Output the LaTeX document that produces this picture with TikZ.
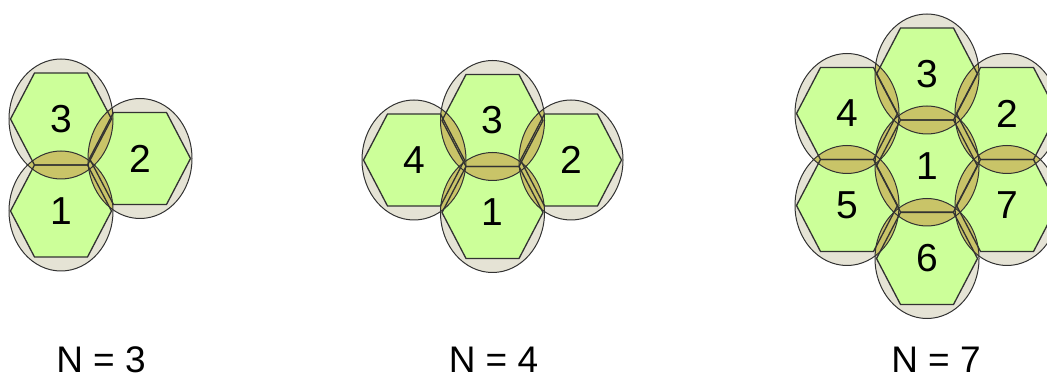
\documentclass[tikz,border=0pt]{standalone}
\usepackage{fontspec}
\setmainfont{Liberation Sans}
\definecolor{cellgreen}{RGB}{204,255,153}
\definecolor{ringbeige}{RGB}{229,227,213}
\definecolor{lensolive}{RGB}{201,196,104}
\definecolor{edgegray}{RGB}{50,50,50}
\tikzset{
  ringfill/.style={fill=ringbeige},
  ringline/.style={draw=edgegray, line width=1pt},
  hexfill/.style={fill=cellgreen},
  hexline/.style={draw=edgegray, line width=1.3pt, line join=miter},
  lensfill/.style={fill=lensolive},
  celllabel/.style={font=\fontsize{39}{40}\selectfont, inner sep=0pt},
  grouplabel/.style={font=\fontsize{37}{40}\selectfont, inner sep=0pt}
}
\newcommand{\hexat}[1]{(#1) +(-50.5,0) -- +(-26.5,-46) -- +(26.5,-46) -- +(50.5,0) -- +(26.5,46) -- +(-26.5,46) -- cycle}
\newcommand{\ringat}[1]{(#1) ellipse [x radius=52pt, y radius=60pt]}
\begin{document}
\begin{tikzpicture}[x=1pt,y=-1pt]
\useasboundingbox (0,0) rectangle (1047,379);
\clip (0,0) rectangle (1047,379);
% N = 3
\coordinate (a1) at (61,211);
\coordinate (a3) at (61,119);
\coordinate (a2) at (140,158.5);
% N = 4
\coordinate (b3) at (492.5,120.5);
\coordinate (b1) at (492.5,212.5);
\coordinate (b4) at (414,160);
\coordinate (b2) at (571,160);
% N = 7
\coordinate (c1) at (927,166);
\coordinate (c3) at (927,74);
\coordinate (c6) at (927,258.5);
\coordinate (c4) at (847,113.5);
\coordinate (c5) at (847,205.5);
\coordinate (c2) at (1007,113.5);
\coordinate (c7) at (1007,205.5);
\def\cells{a1,a2,a3,b1,b2,b3,b4,c1,c2,c3,c4,c5,c6,c7}
% rings
\foreach \c in \cells { \fill[ringfill] \ringat{\c}; }
% hexagon fills
\foreach \c in \cells { \fill[hexfill] \hexat{\c}; }
% lens overlaps
\foreach \p/\q in {a1/a3,a1/a2,a2/a3,
                   b1/b3,b3/b4,b3/b2,b1/b4,b1/b2,
                   c1/c2,c1/c3,c1/c4,c1/c5,c1/c6,c1/c7,
                   c3/c4,c3/c2,c4/c5,c5/c6,c6/c7,c7/c2} {
  \begin{scope}
    \clip \ringat{\p};
    \fill[lensfill] \ringat{\q};
  \end{scope}
}
% hexagon outlines
\foreach \c in \cells { \draw[hexline] \hexat{\c}; }
% ring outlines
\foreach \c in \cells { \draw[ringline] \ringat{\c}; }
% cell labels
\node[celllabel] (la1) at (a1) {1};
\node[celllabel] (la2) at (a2) {2};
\node[celllabel] (la3) at (a3) {3};
\node[celllabel] (lb1) at (b1) {1};
\node[celllabel] (lb2) at (b2) {2};
\node[celllabel] (lb3) at (b3) {3};
\node[celllabel] (lb4) at (b4) {4};
\node[celllabel] (lc1) at (c1) {1};
\node[celllabel] (lc2) at (c2) {2};
\node[celllabel] (lc3) at (c3) {3};
\node[celllabel] (lc4) at (c4) {4};
\node[celllabel] (lc5) at (c5) {5};
\node[celllabel] (lc6) at (c6) {6};
\node[celllabel] (lc7) at (c7) {7};
% group labels
\node[grouplabel] (n3) at (101,360) {N = 3};
\node[grouplabel] (n4) at (493.5,360) {N = 4};
\node[grouplabel] (n7) at (936,360) {N = 7};
\end{tikzpicture}
\end{document}
